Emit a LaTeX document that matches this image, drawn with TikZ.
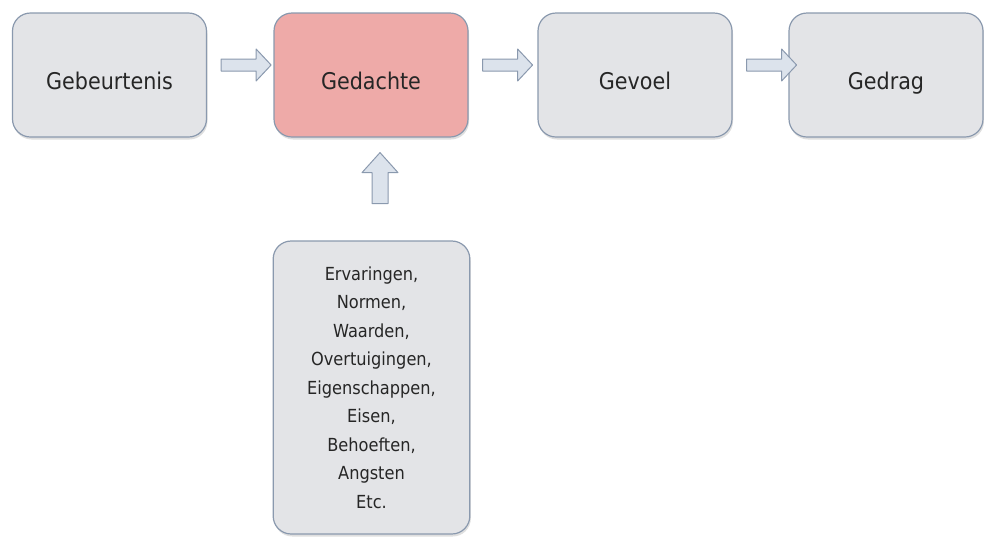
\documentclass[tikz,border=0pt]{standalone}
\usepackage{fontspec}
\setmainfont{DejaVu Sans Condensed}
\usetikzlibrary{shadows}
\definecolor{boxgray}{HTML}{E3E4E7}
\definecolor{boxpink}{HTML}{EEAAA8}
\definecolor{boxline}{HTML}{8A99AE}
\definecolor{arrowfill}{HTML}{DCE3EC}
\definecolor{txt}{HTML}{262626}
\tikzset{
  basebox/.style={draw=boxline, line width=1.2pt, fill=boxgray, rounded corners=18pt,
    text=txt, drop shadow={opacity=0.25, shadow xshift=1pt, shadow yshift=-2.5pt}},
  stepbox/.style={basebox, minimum width=194pt, minimum height=124pt,
    text height=33pt, text depth=5pt, font=\fontsize{23}{27}\selectfont},
  listbox/.style={basebox, minimum height=293pt, minimum width=196pt, align=center,
    font=\fontsize{18}{28.5}\selectfont},
  blockarrow/.style={draw=boxline, line width=1pt, fill=arrowfill, line join=round}
}
\begin{document}
\begin{tikzpicture}[x=1pt,y=-1pt]
\useasboundingbox (0,0) rectangle (984,539);
\node[stepbox] (geb) at (109.5,75) {Gebeurtenis};
\node[stepbox, fill=boxpink] (ged) at (371,75) {Gedachte};
\node[stepbox] (gev) at (635,75) {Gevoel};
\node[stepbox] (gdr) at (886,75) {Gedrag};
\node[listbox] (lst) at (371.5,387.5) {\raisebox{-4pt}{\parbox{190pt}{\centering Ervaringen,\\Normen,\\Waarden,\\Overtuigingen,\\Eigenschappen,\\Eisen,\\Behoeften,\\Angsten\\Etc.}}};
% horizontal block arrows
\foreach \a in {geb, ged, gev} {
  \draw[blockarrow] (\a.east) ++(14,-16) -- ++(35,0) -- ++(0,-10) -- ++(15,16)
    -- ++(-15,16) -- ++(0,-10) -- ++(-35,0) -- cycle;
}
% vertical block arrow
\draw[blockarrow] (ged.south) ++(1,66) -- ++(0,-31) -- ++(-10,0) -- ++(18,-20)
  -- ++(18,20) -- ++(-10,0) -- ++(0,31) -- cycle;
\end{tikzpicture}
\end{document}
